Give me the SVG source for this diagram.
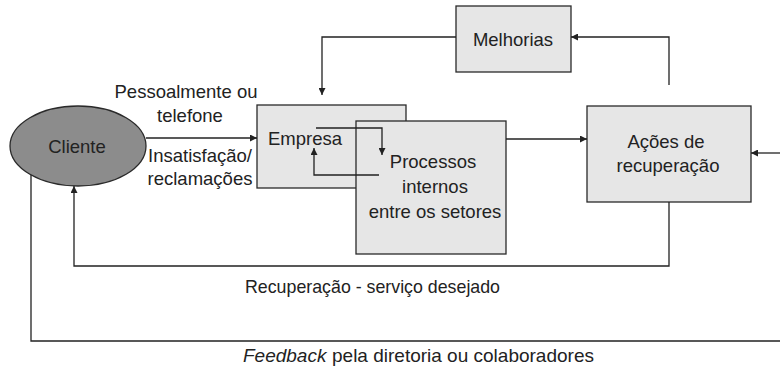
<svg xmlns="http://www.w3.org/2000/svg" width="780" height="376" viewBox="0 0 780 376">
<defs>
<style>
.box{fill:#e6e6e6;stroke:#2a2a2a;stroke-width:1.3}
.t{font-family:"Liberation Sans",Arial,sans-serif;font-size:18.5px;fill:#222;text-anchor:middle}
.tl{font-family:"Liberation Sans",Arial,sans-serif;font-size:18.5px;fill:#222}
.c{fill:none;stroke:#222;stroke-width:1.3}
</style>
<marker id="ah" viewBox="0 0 10 10" refX="10" refY="5" markerWidth="9" markerHeight="7" markerUnits="userSpaceOnUse" orient="auto">
<path d="M0,0 L10,5 L0,10 z" fill="#222"/>
</marker>
</defs>
<rect width="780" height="376" fill="#fff"/>
<g id="cliente">
<ellipse cx="78" cy="146" rx="68" ry="40" fill="#8c8c8c" stroke="#2a2a2a" stroke-width="1.3"/>
<text class="t" x="77" y="153">Cliente</text>
</g>
<g id="melhorias">
<rect class="box" x="456" y="6" width="115" height="66"/>
<text class="t" x="513" y="46">Melhorias</text>
</g>
<g id="empresa">
<rect class="box" x="257" y="105" width="149" height="83"/>
<text class="tl" x="268" y="145">Empresa</text>
</g>
<g id="processos">
<rect class="box" x="356" y="121" width="150" height="133"/>
<text class="t" x="433" y="168">Processos</text>
<text class="t" x="435" y="193">internos</text>
<text class="t" x="435" y="218">entre os setores</text>
</g>
<g id="acoes">
<rect class="box" x="587" y="106" width="164" height="96"/>
<text class="t" x="666" y="148">Ações de</text>
<text class="t" x="668" y="172">recuperação</text>
</g>
<g id="connectors">
<path class="c" d="M146,138 H257" marker-end="url(#ah)"/>
<path class="c" d="M316,128 H382 V155" marker-end="url(#ah)"/>
<path class="c" d="M379,175 H314 V148" marker-end="url(#ah)"/>
<path class="c" d="M506,139 H587" marker-end="url(#ah)"/>
<path class="c" d="M669,85 V37 H571" marker-end="url(#ah)"/>
<path class="c" d="M456,37 H322 V95" marker-end="url(#ah)"/>
<path class="c" d="M669,202 V266 H74 V186" marker-end="url(#ah)"/>
<path class="c" d="M31,175 V341 H780"/>
<path class="c" d="M780,153 H751" marker-end="url(#ah)"/>
</g>
<g id="labels">
<text class="t" x="186" y="98">Pessoalmente ou</text>
<text class="t" x="190" y="122">telefone</text>
<text class="t" x="200" y="162">Insatisfação/</text>
<text class="t" x="200" y="185">reclamações</text>
<text class="tl" x="245" y="293" style="font-size:17.8px">Recuperação - serviço desejado</text>
<text class="tl" x="243" y="362" style="font-size:19px"><tspan font-style="italic">Feedback</tspan><tspan x="332">pela diretoria ou colaboradores</tspan></text>
</g>
</svg>
